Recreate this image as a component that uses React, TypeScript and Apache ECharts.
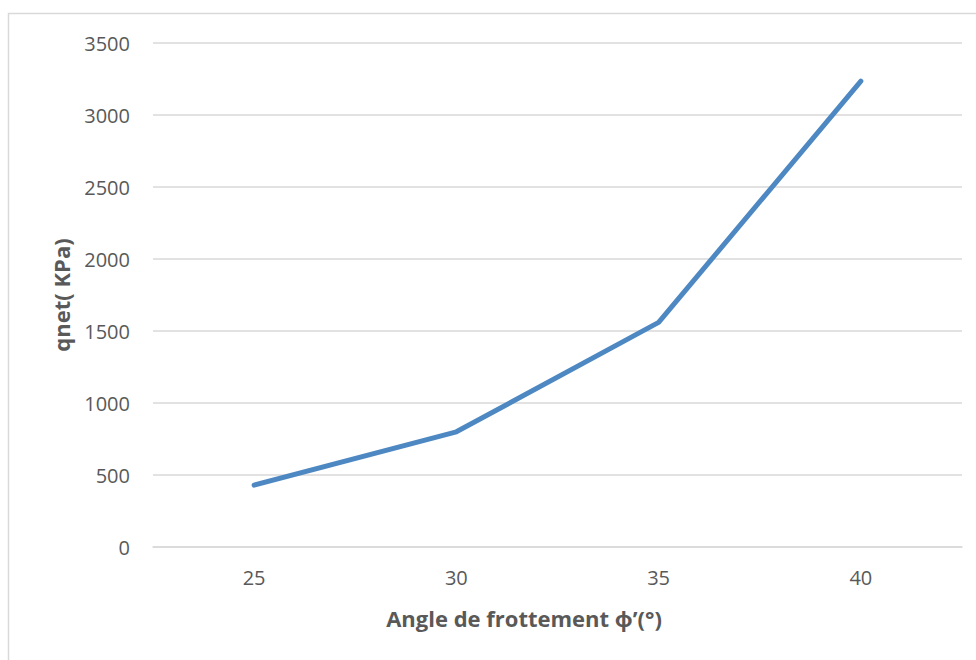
import React, { useEffect, useRef } from "react";
import * as echarts from "echarts";

// Friction angle (degrees) and net bearing capacity (kPa)
const angles = ["25", "30", "35", "40"];
const qnet = [430, 800, 1560, 3235];

const xTitle = "Angle de frottement ϕ’(°)";
const yTitle = "qnet( KPa)";

const FONT = "'Open Sans', 'Noto Sans', sans-serif";
const GREY = "#595959";

export default function App() {
  const ref = useRef<HTMLDivElement>(null);

  useEffect(() => {
    if (!ref.current) return;
    const chart = echarts.init(ref.current, undefined, { renderer: "svg" });
    chart.setOption({
      animation: false,
      backgroundColor: "#ffffff",
      textStyle: { fontFamily: FONT },
      graphic: [
        {
          type: "rect",
          shape: { x: 8.5, y: 13.5, width: 1200, height: 900 },
          style: { fill: "none", stroke: "#d9d9d9", lineWidth: 1.5 },
          silent: true,
        },
        {
          // horizontal title, centred on the chart area rather than the plot
          type: "text",
          x: 524,
          y: 618,
          style: {
            text: xTitle,
            fill: GREY,
            font: `bold 22px ${FONT}`,
            align: "center",
            verticalAlign: "middle",
          },
          silent: true,
        },
      ],
      grid: { left: 153, right: 14, top: 43, bottom: 113 },
      xAxis: {
        type: "category",
        data: angles,
        boundaryGap: true,
        axisLine: { show: true, lineStyle: { color: "#d9d9d9", width: 1.5 } },
        axisTick: { show: false },
        axisLabel: { color: GREY, fontSize: 20, margin: 20, fontFamily: FONT },
      },
      yAxis: {
        type: "value",
        min: 0,
        max: 3500,
        interval: 500,
        axisLine: { show: false },
        axisTick: { show: false },
        splitLine: { lineStyle: { color: "#d9d9d9", width: 1.5 } },
        axisLabel: {
          color: GREY,
          fontSize: 20,
          margin: 23,
          fontFamily: FONT,
          formatter: (v: number) => String(v),
        },
        name: yTitle,
        nameLocation: "middle",
        nameGap: 81,
        nameRotate: 90,
        nameTextStyle: { color: GREY, fontSize: 22, fontWeight: "bold", fontFamily: FONT },
      },
      series: [
        {
          type: "line",
          data: qnet,
          symbol: "none",
          lineStyle: { color: "#4e88c2", width: 5, cap: "round", join: "round" },
        },
      ],
    });
    return () => chart.dispose();
  }, []);

  return (
    <div
      ref={ref}
      style={{ position: "fixed", left: 0, top: 0, width: 976, height: 660 }}
    />
  );
}
